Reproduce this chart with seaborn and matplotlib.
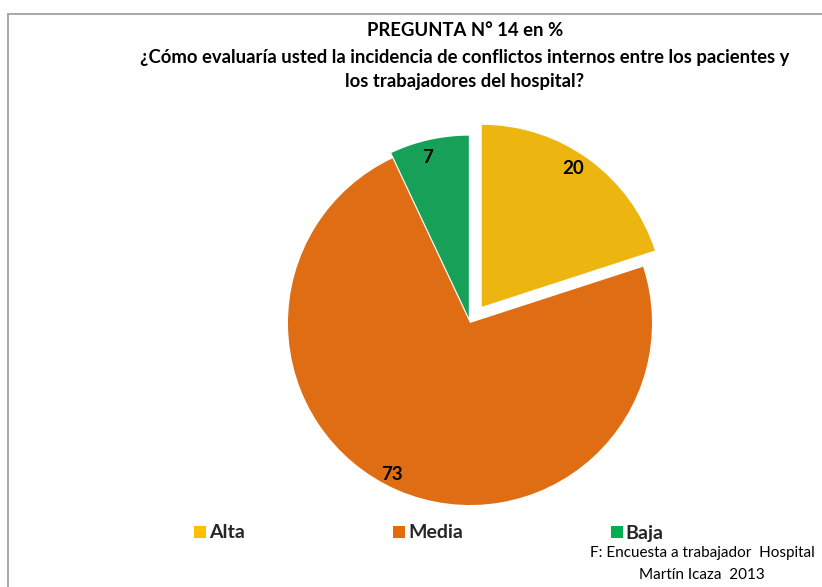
import matplotlib
matplotlib.use("Agg")
import matplotlib.pyplot as plt
import seaborn as sns
import numpy as np
from matplotlib.lines import Line2D

categories = ["Alta", "Media", "Baja"]
values = [20, 73, 7]
slice_colors = ["#EDB510", "#DE6D14", "#17A158"]
legend_colors = ["#FFC000", "#E36C09", "#00B050"]
explode = [0.11, 0.0, 0.03]

title_lines = ["PREGUNTA N° 14 en %",
               "¿Cómo evaluaría usted la incidencia de conflictos internos entre los pacientes y",
               "los trabajadores del hospital?"]
source_text = "F: Encuesta a trabajador  Hospital\nMartín Icaza  2013"

sns.set_theme(style="white")
plt.rcParams['font.family'] = ['Lato', 'DejaVu Sans']

W, H = 822, 587
fig = plt.figure(figsize=(W / 100, H / 100), dpi=100)

# pie axes: center at (470, 323) px, radius 182 px
cx, cy, R = 470, 323, 182
half = 250
ax = fig.add_axes([(cx - half) / W, (H - cy - half) / H, 2 * half / W, 2 * half / H])
wedges, texts = ax.pie(values, colors=slice_colors, explode=explode, startangle=90,
                       counterclock=False, labels=[str(v) for v in values],
                       labeldistance=0.9,
                       wedgeprops=dict(linewidth=0),
                       textprops=dict(fontsize=13.5, fontweight='bold', color='black'))
# adjust label angles like the original
ex = explode[0]
a0 = np.deg2rad(54)
a = np.deg2rad(60)
texts[0].set_position((ex * np.cos(a0) + 0.88 * np.cos(a), ex * np.sin(a0) + 0.88 * np.sin(a)))
ang = np.deg2rad(-114)
texts[1].set_position((0.91 * np.cos(ang), 0.91 * np.sin(ang)))
lim = half / R
ax.set_xlim(-lim, lim)
ax.set_ylim(-lim, lim)
ax.set_aspect('equal')
ax.axis('off')

# Title
ys = [30, 57, 82]
for t, y in zip(title_lines, ys):
    fig.text(465 / W, 1 - y / H, t, ha='center', va='center', fontsize=13.3,
             fontweight='bold', color='black')

# Legend
handles = [Line2D([0], [0], marker='s', linestyle='none', markersize=9,
                  markerfacecolor=c, markeredgewidth=0) for c in legend_colors]
fig.legend(handles, categories, loc='center left', bbox_to_anchor=(176 / W, 1 - 533 / H),
           ncol=3, frameon=False, handlelength=0.7, handletextpad=0.12,
           columnspacing=7.55, prop=dict(size=14, weight='bold'))

# Source
fig.text(702 / W, 1 - 564 / H, source_text, ha='center', va='center', fontsize=11,
         color='black', multialignment='center', linespacing=1.7)

# Border (left and top)
fig.add_artist(Line2D([8 / W, 8 / W], [0, 1 - 14 / H], transform=fig.transFigure,
                      color='#9a9a9a', linewidth=1.2))
fig.add_artist(Line2D([8 / W, 1], [1 - 14 / H, 1 - 14 / H], transform=fig.transFigure,
                      color='#9a9a9a', linewidth=1.2))

fig.savefig("out.png", dpi=100)
